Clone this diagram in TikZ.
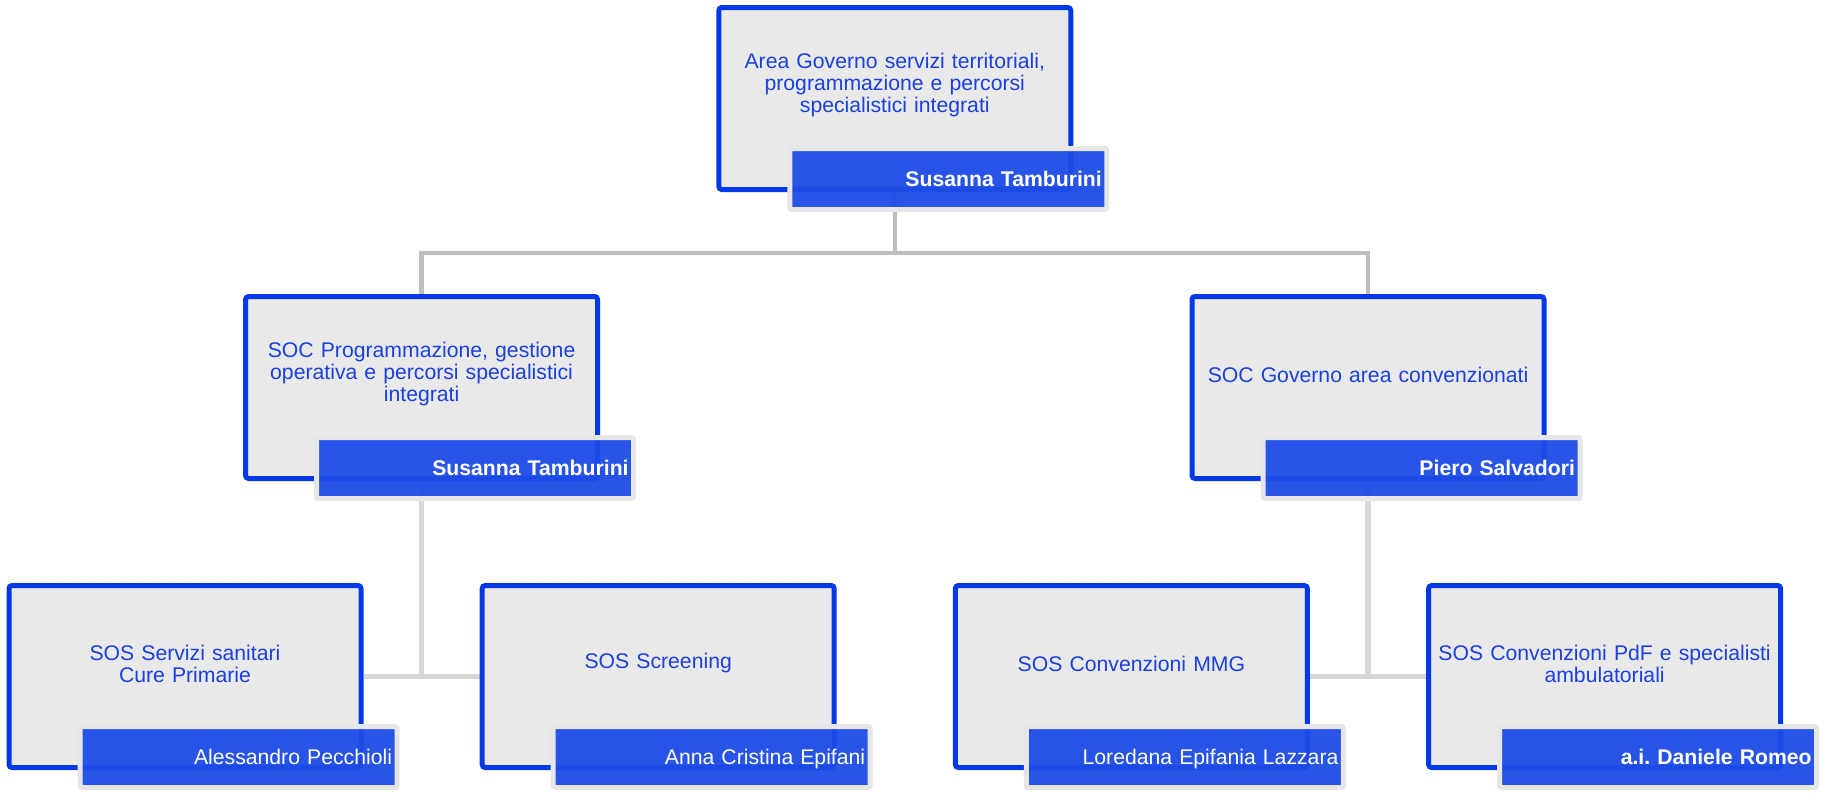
\documentclass[tikz,border=0pt]{standalone}
\usepackage{fontspec}
\setmainfont{Liberation Sans}
\usetikzlibrary{calc,positioning,backgrounds}
\definecolor{OrgBlue}{HTML}{0538E6}
\definecolor{OrgBar}{HTML}{1D4CE6}
\definecolor{OrgText}{HTML}{1A40E0}
\definecolor{OrgFill}{HTML}{E9E9E9}
\definecolor{OrgFrame}{HTML}{E6E6E6}
\definecolor{OrgLinkDark}{HTML}{BEBEBE}
\definecolor{OrgLinkLight}{HTML}{D6D6D6}
\frenchspacing

\begin{document}
\begin{tikzpicture}[
  font=\fontsize{10.6}{11}\selectfont,
  node distance=58.1pt,
  unit/.style={draw=OrgBlue, fill=OrgFill, line width=2.5pt, rounded corners=1.5pt,
    minimum width=176pt, minimum height=91pt, inner sep=0pt},
  unittext/.style={text=OrgText, align=center, text width=172pt, inner sep=0pt},
  head/.style={draw=OrgFrame, fill=OrgBar, fill opacity=0.95, text opacity=1, line width=2.5pt,
    rounded corners=1pt, text=white, align=right, text width=153.5pt, minimum height=30.5pt,
    inner xsep=2.5pt, text depth=0pt, anchor=south east},
  link/.style={draw=OrgLinkDark, line width=2.2pt},
  sublink/.style={draw=OrgLinkLight, line width=2.8pt}
]
\useasboundingbox (0,0) rectangle (912.5pt,-396.5pt);
% bottom row
\node[unit] (cure) at (92.5pt,-338.25pt) {};
\node[unit, right=of cure] (screen) {};
\node[unit, right=of screen] (mmg) {};
\node[unit, right=of mmg] (pdf) {};
% middle row
\node[unit] (prog) at ($(cure)!.5!(screen)+(0,144.5pt)$) {};
\node[unit] (conv) at ($(mmg)!.5!(pdf)+(0,144.5pt)$) {};
% top
\node[unit] (area) at ($(prog)!.5!(conv)+(0,144.5pt)$) {};

\node[unittext] (area-text) at ([yshift=6.5pt]area.center) {Area Governo servizi territoriali,\\programmazione e percorsi\\specialistici integrati};
\node[unittext] (prog-text) at ([yshift=6.5pt]prog.center) {SOC Programmazione, gestione\\operativa e percorsi specialistici\\integrati};
\node[unittext] (conv-text) at ([yshift=6.5pt]conv.center) {SOC Governo area convenzionati};
\node[unittext] (cure-text) at ([yshift=6.5pt]cure.center) {SOS Servizi sanitari\\Cure Primarie};
\node[unittext] (screen-text) at ([yshift=6.5pt]screen.center) {SOS Screening};
\node[unittext] (mmg-text) at ([yshift=6.5pt]mmg.center) {SOS Convenzioni MMG};
\node[unittext] (pdf-text) at ([yshift=6.5pt]pdf.center) {SOS Convenzioni PdF e specialisti\\ambulatoriali};

\node[head] (area-head) at ([shift={(18pt,-10pt)}]area.south east) {\bfseries Susanna Tamburini};
\node[head] (prog-head) at ([shift={(18pt,-10pt)}]prog.south east) {\bfseries Susanna Tamburini};
\node[head] (conv-head) at ([shift={(18pt,-10pt)}]conv.south east) {\bfseries Piero Salvadori};
\node[head] (cure-head) at ([shift={(18pt,-10pt)}]cure.south east) {Alessandro Pecchioli};
\node[head] (screen-head) at ([shift={(18pt,-10pt)}]screen.south east) {Anna Cristina Epifani};
\node[head] (mmg-head) at ([shift={(18pt,-10pt)}]mmg.south east) {Loredana Epifania Lazzara};
\node[head] (pdf-head) at ([shift={(18pt,-10pt)}]pdf.south east) {\bfseries a.i. Daniele Romeo};

\begin{scope}[on background layer]
\coordinate (bus) at ($(area.center |- area-head.south)!.5!(area.center |- prog.north)$);
\draw[link] (area.center) -- (bus) -| (prog.north);
\draw[link] (bus) -| (conv.north);
\draw[sublink] (prog.center) -- (prog.center |- cure.east);
\draw[sublink] (cure.east) -- (screen.west);
\draw[sublink] (conv.center) -- (conv.center |- mmg.east);
\draw[sublink] (mmg.east) -- (pdf.west);
\end{scope}
\end{tikzpicture}
\end{document}
